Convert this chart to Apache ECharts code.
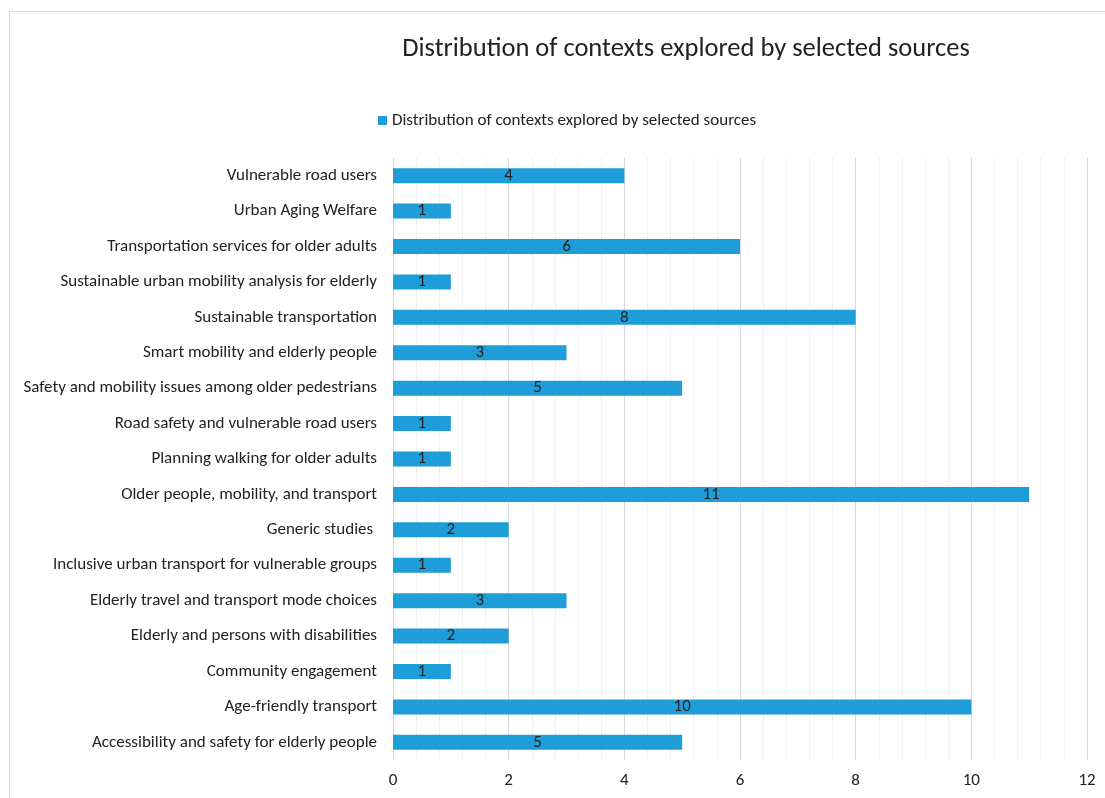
<!DOCTYPE html>
<html>
<head>
<meta charset="utf-8">
<script src="https://cdn.jsdelivr.net/npm/echarts@6/dist/echarts.min.js"></script>
<style>
  html, body { margin: 0; padding: 0; background: #fff; overflow: hidden; }
  #frame { position: absolute; left: 9px; top: 11px; width: 1110px; height: 800px; border: 1px solid #d9d9d9; }
  #chartmain { position: absolute; left: 0; top: 0; width: 1105px; height: 798px; }
</style>
</head>
<body>
<div id="frame"></div>
<div id="chartmain"></div>
<script>
// categories listed bottom to top, as the category axis draws them
var categories = [
  'Accessibility and safety for elderly people',
  'Age-friendly transport',
  'Community engagement',
  'Elderly and persons with disabilities',
  'Elderly travel and transport mode choices',
  'Inclusive urban transport for vulnerable groups',
  'Generic studies ',
  'Older people, mobility, and transport',
  'Planning walking for older adults',
  'Road safety and vulnerable road users',
  'Safety and mobility issues among older pedestrians',
  'Smart mobility and elderly people',
  'Sustainable transportation',
  'Sustainable urban mobility analysis for elderly',
  'Transportation services for older adults',
  'Urban Aging Welfare',
  'Vulnerable road users'
];
var counts = [5, 10, 1, 2, 3, 1, 2, 11, 1, 1, 5, 3, 8, 1, 6, 1, 4];
var seriesName = 'Distribution of contexts explored by selected sources';
var chartTitle = 'Distribution of contexts explored by selected sources';

var font = 'Carlito, "Open Sans", "Liberation Sans", sans-serif';

var option = {
  animation: false,
  title: {
    text: chartTitle,
    left: 681,
    textAlign: 'center',
    top: 31,
    textStyle: { fontFamily: font, fontSize: 26.5, fontWeight: 'normal', color: '#222' }
  },
  legend: {
    data: [seriesName],
    left: 373,
    top: 107,
    itemWidth: 9,
    itemHeight: 9,
    itemGap: 6,
    icon: 'rect',
    textStyle: { fontFamily: font, fontSize: 17, color: '#222' }
  },
  grid: { left: 393, right: 18, top: 158, bottom: 38, containLabel: false },
  xAxis: {
    type: 'value',
    min: 0,
    max: 12,
    interval: 2,
    axisLine: { show: false },
    axisTick: { show: false },
    axisLabel: { fontFamily: font, fontSize: 17, color: '#222', margin: 12 },
    splitLine: { show: true, lineStyle: { color: '#d9d9d9', width: 1 } },
    minorTick: { show: false, splitNumber: 5 },
    minorSplitLine: { show: true, lineStyle: { color: '#efefef', width: 1 } }
  },
  yAxis: {
    type: 'category',
    data: categories,
    axisLine: { show: true, lineStyle: { color: '#d9d9d9' } },
    axisTick: { show: false },
    axisLabel: { fontFamily: font, fontSize: 17, color: '#222', margin: 16 }
  },
  series: [{
    name: seriesName,
    type: 'bar',
    data: counts,
    barWidth: 15,
    itemStyle: { color: '#1f9dd9' },
    label: {
      show: true,
      position: 'inside',
      fontFamily: font,
      fontSize: 17,
      color: '#222'
    }
  }]
};

window.onload = function () {
  var chart = echarts.init(document.getElementById('chartmain'));
  chart.setOption(option);
};
</script>
</body>
</html>
